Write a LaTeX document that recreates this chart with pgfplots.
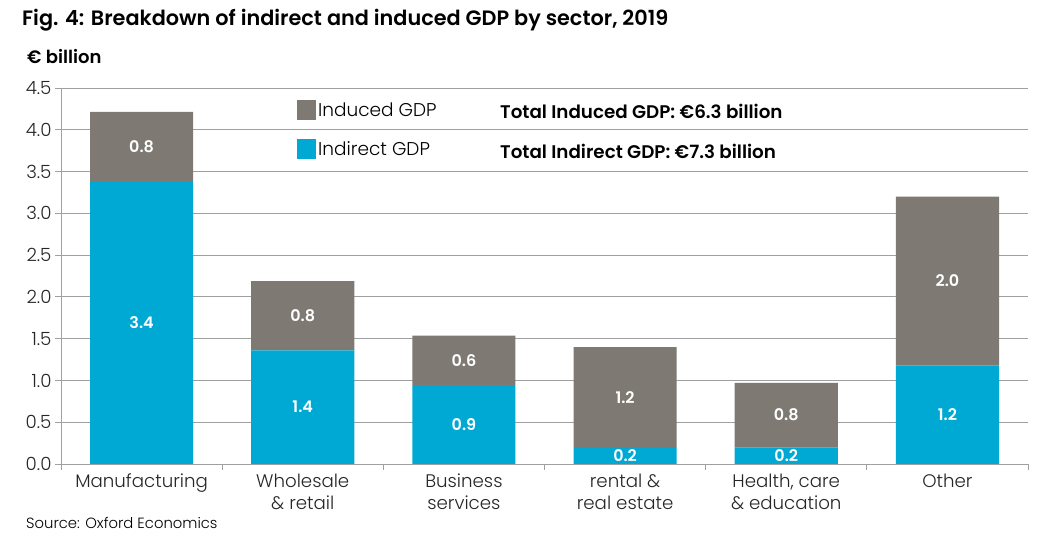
\documentclass[border=0pt]{standalone}
\usepackage{pgfplots}
\pgfplotsset{compat=1.18}
\usepackage{fontspec}
\setmainfont{Poppins}[UprightFont={* Light}, BoldFont={* SemiBold}]
\definecolor{induced}{RGB}{126,122,115}
\definecolor{indirect}{RGB}{0,169,212}
\definecolor{gridc}{RGB}{160,160,160}
\begin{document}
\begin{tikzpicture}[x=1pt,y=1pt]
\useasboundingbox (0,0) rectangle (1051,540);
\node[anchor=west,font=\bfseries\fontsize{20.8}{24}\selectfont,inner sep=0] at (22,520) {Fig. 4: Breakdown of indirect and induced GDP by sector, 2019};
\node[anchor=west,font=\bfseries\fontsize{18}{21}\selectfont,inner sep=0] at (27,483) {€ billion};
\node[anchor=west,font=\fontsize{14.8}{17}\selectfont,inner sep=0] at (26,17) {Source: Oxford Economics};
\begin{axis}[
  at={(61pt,76pt)}, anchor=south west,
  scale only axis, width=967pt, height=376pt,
  ybar stacked, bar width=0.64,
  xmin=-0.5, xmax=5.5, ymin=0, ymax=4.5,
  ytick={0,0.5,...,4.5},
  y tick label style={/pgf/number format/fixed, /pgf/number format/precision=1, /pgf/number format/zerofill},
  /pgf/number format/assume math mode=true,
  xtick={0,...,5},
  xticklabels={Manufacturing, Wholesale\\\& retail, Business\\services, rental \&\\real estate, {Health, care\\\& education}, Other},
  xticklabel style={align=center, text depth=0pt},
  minor xtick={-0.5,0.5,...,5.5},
  major x tick style={draw=none},
  minor tick length=6pt, major tick length=6pt,
  tick align=outside, tick pos=left,
  tick style={gridc, line width=0.8pt},
  ymajorgrids, grid style={gridc, line width=0.8pt},
  axis x line*=bottom, axis y line*=left,
  axis line style={gridc, line width=0.8pt},
  tick label style={font=\fontsize{18.2}{22}\selectfont, text=black!85},
  point meta=explicit symbolic,
  nodes near coords,
  every node near coord/.append style={anchor=center, text=white, font=\bfseries\fontsize{16}{19}\selectfont},
  legend style={draw=none, fill=none, at={(0.244,0.968)}, anchor=north west, inner sep=0pt, row sep=19pt, font=\fontsize{18.5}{21}\selectfont, cells={anchor=west}},
  legend image code/.code={\fill[#1] (0pt,-10pt) rectangle (19pt,10pt);},
  reverse legend,
]
\addplot[fill=indirect, draw=none] coordinates {(0,3.385) [3.4] (1,1.36) [1.4] (2,0.945) [0.9] (3,0.19) [0.2] (4,0.2) [0.2] (5,1.18) [1.2]};
\addlegendentry{Indirect GDP}
\addplot[fill=induced, draw=none] coordinates {(0,0.83) [0.8] (1,0.83) [0.8] (2,0.59) [0.6] (3,1.21) [1.2] (4,0.77) [0.8] (5,2.02) [2.0]};
\addlegendentry{Induced GDP}
\node[anchor=west, inner sep=0, font=\bfseries\fontsize{18.3}{21}\selectfont] at (rel axis cs:0.454,0.939) {Total Induced GDP: €6.3 billion};
\node[anchor=west, inner sep=0, font=\bfseries\fontsize{18.3}{21}\selectfont] at (rel axis cs:0.454,0.832) {Total Indirect GDP: €7.3 billion};
\end{axis}
\end{tikzpicture}
\end{document}
